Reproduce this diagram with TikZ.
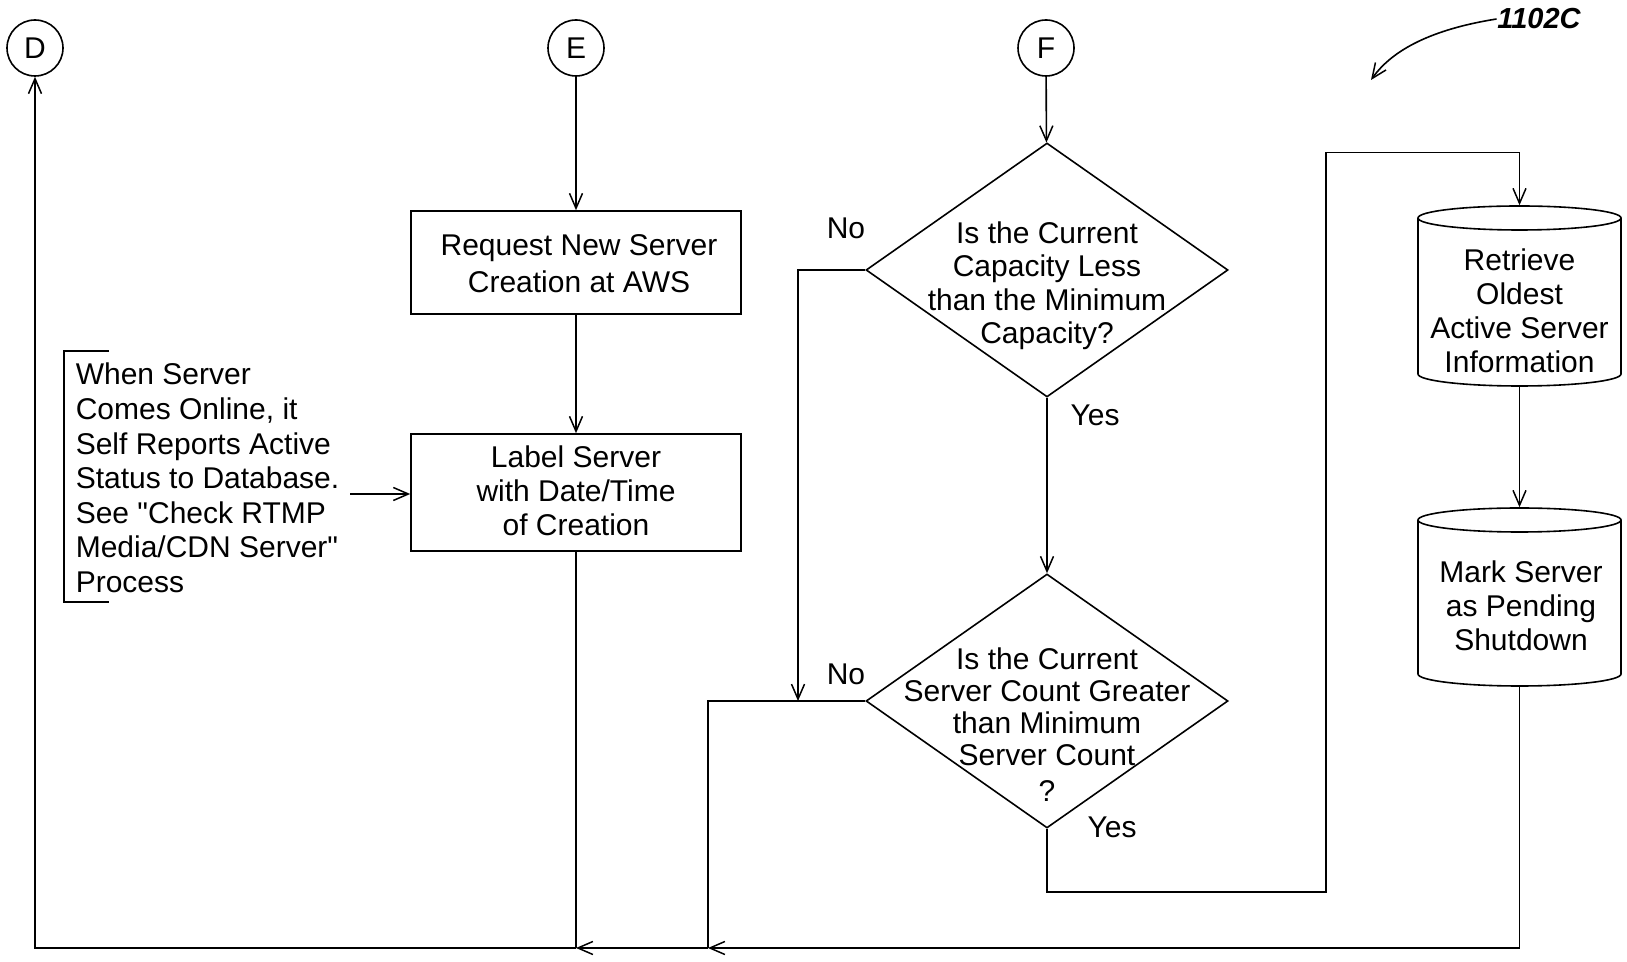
\documentclass[tikz,border=0pt]{standalone}
\usepackage{fontspec}
\setmainfont{Liberation Sans}[Ligatures=TeXOff]
\usetikzlibrary{shapes.geometric,arrows.meta,calc}
\begin{document}
\begin{tikzpicture}[x=1pt,y=1pt,
  line width=1.6pt,
  txt/.style={font=\fontsize{30}{34}\selectfont, inner sep=0pt, align=center},
  conn/.style={draw, -{Straight Barb[length=15pt,width=13pt,line width=1.5pt]}},
  plain/.style={draw},
  circ/.style={circle, draw, minimum size=56pt, inner sep=0pt, font=\fontsize{30}{34}\selectfont},
  procbox/.style={draw, minimum width=330pt, inner sep=0pt},
  dec/.style={diamond, draw, minimum width=362pt, minimum height=254pt, inner sep=0pt},
  cylbox/.style={minimum width=203pt, inner sep=0pt}
]
\useasboundingbox (0,0) rectangle (1627,961);

% connectors (circles)
\node[circ] (D) at (35,913) {D};
\node[circ] (E) at (576,913) {E};
\node[circ] (F) at (1046,913) {F};

% process boxes
\node[procbox, minimum height=103pt] (box1) at (576,698.5) {};
\node[txt, font=\fontsize{30}{37}\selectfont] (box1t) at (579,697) {Request New Server\\Creation at AWS};
\node[procbox, minimum height=117pt] (box2) at (576,468.5) {};
\node[txt] (box2t) at (576,470) {Label Server\\with Date/Time\\of Creation};

% note
\draw (109,610) -- (64,610) -- (64,359) -- (109,359);
\node[txt, align=left, anchor=west, font=\fontsize{30}{34.6}\selectfont] (note) at (75,483)
  {When Server\\Comes Online, it\\Self Reports Active\\Status to Database.\\See "Check RTMP\\Media/CDN Server"\\Process};
\coordinate (notearrow) at (350,467);

% decisions
\node[dec] (d1) at (1047,691) {};
\node[txt, font=\fontsize{30}{33.5}\selectfont] (d1t) at (1047,675)
  {Is the Current\\Capacity Less\\than the Minimum\\Capacity?};
\node[dec] (d2) at (1047,260) {};
\node[txt, font=\fontsize{30}{32}\selectfont] (d2t) at (1047,236)
  {Is the Current\\Server Count Greater\\than Minimum\\Server Count\\[4pt]?};

% cylinders
\node[cylbox, minimum height=180pt] (cyl1) at (1519.5,665) {};
\draw (1519.5,743) ellipse (101.5 and 12);
\draw (1418,743) -- (1418,587) arc (180:360:101.5 and 12) -- (1621,743);
\node[txt] (cyl1t) at (1519.5,650) {Retrieve\\Oldest\\Active Server\\Information};

\node[cylbox, minimum height=178pt] (cyl2) at (1519.5,364) {};
\draw (1519.5,441) ellipse (101.5 and 12);
\draw (1418,441) -- (1418,287) arc (180:360:101.5 and 12) -- (1621,441);
\node[txt] (cyl2t) at (1521,355) {Mark Server\\as Pending\\Shutdown};

% labels
\node[txt] (no1) at (846,733) {No};
\node[txt] (yes1) at (1095,546) {Yes};
\node[txt] (no2) at (846,287) {No};
\node[txt] (yes2) at (1112,134) {Yes};

% reference label
\node[txt, font=\fontsize{29}{34}\selectfont\bfseries\itshape] (ref) at (1539,942) {1102C};
\draw[-{Straight Barb[length=15pt,width=13pt,line width=1.5pt]}]
  (ref.west) .. controls (1440,933) and (1395,915) .. (1371,881);

% junction coordinates
\coordinate (jr) at (1519.5,13);
\coordinate (j1) at (708,13);
\coordinate (j2) at (576,13);
\coordinate (j0) at (35,13);
\coordinate (n1end) at (798,260);

% flow
\draw[conn] (E) -- (box1);
\draw[conn] (box1) -- (box2);
\draw[conn] (notearrow) -- (box2.west |- notearrow);
\draw[conn] (F) -- (d1);
\draw[conn] (d1) -- (d2);
\draw[conn] (d1.west) -- (n1end |- d1.west) -- (n1end);
\draw[plain] (d2.west) -- (j1 |- d2.west) -- (j1);
\draw[conn] (d2.south) -- ++(0,-63) -| (1326,808.5) -| (cyl1.north);
\draw[conn] (cyl1.south) -- (cyl2.north);
\draw[conn] (cyl2.south) -- (jr) -- (j1);
\draw[conn] (j1) -- (j2);
\draw[plain] (box2) -- (j2);
\draw[conn] (j2) -- (j0) -- (D);
\end{tikzpicture}
\end{document}
